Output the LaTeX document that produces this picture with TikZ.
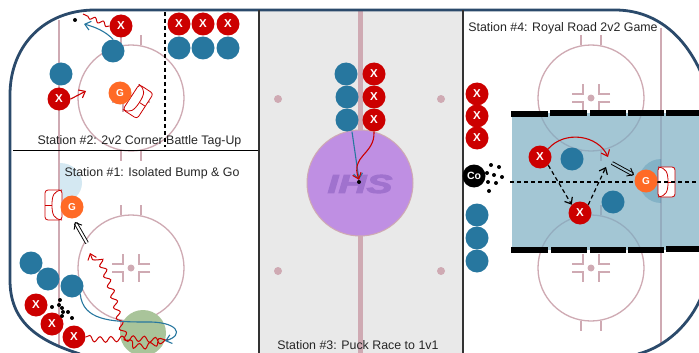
\documentclass[tikz,border=0pt]{standalone}
\usepackage{fontspec}
\setmainfont{Liberation Sans}
\newfontfamily\logofont[FakeBold=3]{Liberation Sans}
\usetikzlibrary{arrows.meta,decorations.pathmorphing}
\definecolor{rinkblue}{HTML}{2B4A6B}
\definecolor{rinkpink}{HTML}{CFAAB3}
\definecolor{teamblue}{HTML}{27779F}
\definecolor{teamred}{HTML}{CC0000}
\definecolor{goalorange}{HTML}{FF6A26}
\definecolor{stationgray}{HTML}{E9E9E9}
\definecolor{puckpurple}{HTML}{BF8FE3}
\definecolor{logopurple}{HTML}{A072CE}
\definecolor{zonegreen}{HTML}{A9C49A}
\definecolor{zoneblue}{HTML}{7CAEC3}
\definecolor{zonetint}{HTML}{A3C5D3}
\definecolor{creaseblue}{HTML}{D4E8F2}
\tikzset{
    bluedot/.style={circle, fill=teamblue, minimum size=23pt, inner sep=0},
    reddot/.style={circle, fill=teamred, text=white, minimum size=23pt, inner sep=0, font=\fontsize{11.5}{12}\selectfont\bfseries},
    goaliedot/.style={circle, fill=goalorange, text=white, minimum size=23pt, inner sep=0, font=\fontsize{10}{10}\selectfont\bfseries},
    coachdot/.style={circle, fill=black, text=white, minimum size=23pt, inner sep=0, font=\fontsize{10.5}{11}\selectfont\bfseries},
    puckdot/.style={circle, fill=black, minimum size=4pt, inner sep=0},
    rinkdot/.style={circle, fill=rinkpink, minimum size=8pt, inner sep=0},
    stationtext/.style={font=\fontsize{12.4}{13}\selectfont, text=black!85},
    barb/.style={-{Straight Barb[length=5.5pt,width=9pt]}},
    dashline/.style={dash pattern=on 4pt off 3pt, line width=1.2pt},
    wavy/.style={draw=teamred, line width=1pt, decorate, decoration={snake, amplitude=2.8pt, segment length=11pt, post length=4pt}},
    zonebar/.style={line width=5.5pt},
    goalnet/.pic={
        \draw[teamred, fill=white, line width=0.8pt, rounded corners=3pt] (0,-15) -- (-17,-15) -- (-17,15) -- (0,15) -- cycle;
        \draw[teamred, line width=0.8pt] (0,-15) .. controls (-8,-14) and (-10,-10) .. (-10,0) .. controls (-10,10) and (-8,14) .. (0,15);
        \draw[teamred, line width=0.8pt] (-17,0) -- (-10,0);
    },
    faceoff/.pic={
        \draw[rinkpink, line width=1.3pt] (0,0) circle (53pt);
        \fill[rinkpink] (0,0) circle (3.5pt);
        \draw[rinkpink, line width=1.3pt] (-10,-53) -- (-10,-63);
        \draw[rinkpink, line width=1.3pt] (10,-53) -- (10,-63);
        \draw[rinkpink, line width=1.3pt] (-10,53) -- (-10,63);
        \draw[rinkpink, line width=1.3pt] (10,53) -- (10,63);
        \draw[rinkpink, line width=1.3pt] (-19,-4) -- (-8,-4) -- (-8,-14);
        \draw[rinkpink, line width=1.3pt] (19,-4) -- (8,-4) -- (8,-14);
        \draw[rinkpink, line width=1.3pt] (-19,4) -- (-8,4) -- (-8,14);
        \draw[rinkpink, line width=1.3pt] (19,4) -- (8,4) -- (8,14);
    }
}
\begin{document}
\begin{tikzpicture}[x=1pt, y=-1pt]
    \clip (0,0) rectangle (699,353);
    \fill[white] (0,0) rectangle (699,353);

    % center panel and rink lines
    \fill[stationgray] (259,11) rectangle (463,353);
    \draw[rinkpink, line width=5pt] (360,11) -- (360,353);
    \draw[rinkpink, line width=1.3pt] (59,20) -- (59,347);
    \draw[rinkpink, line width=1.3pt] (661,28) -- (661,343);
    \pic at (131,98) {faceoff};
    \pic at (131,268) {faceoff};
    \pic at (591,98) {faceoff};
    \pic at (591,268) {faceoff};

    % station 4 zone
    \fill[zoneblue, fill opacity=0.7] (512,113) rectangle (699,250);
    \fill[teamblue, fill opacity=0.25] (661,159) arc[start angle=90, end angle=270, radius=22pt] -- cycle;
    \draw[zonebar] (511,114) -- (548,114);
    \draw[zonebar] (550,113) -- (587,113);
    \draw[zonebar] (590,113) -- (626,113);
    \draw[zonebar] (628,113) -- (664,113);
    \draw[zonebar] (666,113) -- (699,113);
    \draw[zonebar] (511,250) -- (548,250);
    \draw[zonebar] (551,250) -- (587,250);
    \draw[zonebar] (590,250) -- (626,250);
    \draw[zonebar] (628,250) -- (664,250);
    \draw[zonebar] (666,249) -- (699,249);

    % station 1 zones
    \fill[creaseblue] (60,163) arc[start angle=90, end angle=-90, x radius=22pt, y radius=20pt] -- cycle;
    \fill[zonegreen] (143,333) circle (23pt);

    % walls
    \draw[rinkblue, line width=2.8pt] (80,354) .. controls (35,340) and (10,320) .. (10,280) -- (10,95) .. controls (10,45) and (45,10) .. (95,10) -- (615,10) .. controls (655,10) and (685,35) .. (702,75);
    \draw[rinkblue, line width=2.8pt] (702,295) .. controls (690,325) and (665,347) .. (638,354);
    \draw[black!80, line width=1.2pt] (259,10) -- (259,353);
    \draw[black!80, line width=1.2pt] (463,10) -- (463,353);
    \draw[black, line width=1pt] (13,150) -- (258,150);

    % station 2
    \draw[dashline] (165,12) -- (165,147);
    \pic[rotate=147] at (131,97) {goalnet};
    \node[reddot] (xa) at (121,26) {X};
    \node[reddot] (xb) at (179,24) {X};
    \node[reddot] (xc) at (203,24) {X};
    \node[reddot] (xd) at (228,24) {X};
    \node[reddot] (xe) at (59,99) {X};
    \node[bluedot] (ba) at (113,51) {};
    \node[bluedot] (bb) at (179,48) {};
    \node[bluedot] (bc) at (203,48) {};
    \node[bluedot] (bd) at (228,48) {};
    \node[bluedot] (be) at (61,74) {};
    \node[goaliedot] (ga) at (120,93) {G};
    \node[puckdot] (pa) at (75,20) {};
    \coordinate (waveA) at (83,14);
    \coordinate (turnA) at (84,24);
    \coordinate (skateA) at (86,91);
    \draw[wavy, decoration={amplitude=2pt, segment length=9pt}] (xa.west) -- (waveA);
    \draw[barb, teamblue, line width=1.1pt] (ba.north) .. controls (105,31) and (95,27) .. (turnA);
    \draw[barb, teamred, line width=1.1pt] (xe.east) -- (skateA);

    % station 1
    \pic at (62,205) {goalnet};
    \node[goaliedot] (gb) at (72,207) {G};
    \node[bluedot] (bf) at (31,263) {};
    \node[bluedot] (bg) at (48,279) {};
    \node[bluedot] (bh) at (72,286) {};
    \node[reddot] (xf) at (36,305) {X};
    \node[reddot] (xg) at (52,324) {X};
    \node[reddot] (xh) at (74,337) {X};
    \node[puckdot] (pb) at (52,307) {};
    \node[puckdot] (pc) at (60,300) {};
    \node[puckdot] (pd) at (59,305) {};
    \node[puckdot] (pe) at (62,308) {};
    \node[puckdot] (pf) at (68,312) {};
    \node[puckdot] (pg) at (63,312) {};
    \node[puckdot] (ph) at (62,316) {};
    \node[puckdot] (pi) at (72,318) {};
    \coordinate (passA) at (87,243);
    \coordinate (passB) at (75,222);
    \coordinate (waveB) at (118,338);
    \coordinate (waveC) at (161,341);
    \coordinate (waveD) at (128,350);
    \coordinate (waveE) at (110,310);
    \coordinate (waveF) at (90,253);
    \coordinate (turnC) at (165,341);
    \draw[wavy, barb] (xh.east) .. controls (95,340) and (110,338) .. (waveB) .. controls (130,337) and (150,338) .. (waveC) .. controls (150,352) and (135,352) .. (waveD) .. controls (118,345) and (115,330) .. (waveE) .. controls (105,290) and (98,275) .. (waveF);
    \draw[barb, teamblue, line width=1.1pt] (bh.south east) .. controls (83,320) and (110,322) .. (145,322) .. controls (178,321) and (185,335) .. (turnC);
    \draw[barb, double, double distance=2pt, line width=0.9pt] (passA) -- (passB);

    % station 3
    \fill[puckpurple, draw=rinkpink, line width=1pt] (360,183) circle (53pt);
    \node[text=logopurple, font=\logofont\fontsize{26}{26}\selectfont\bfseries\itshape, xscale=1.5] (logo) at (360,184) {IHS};
    \node[rinkdot] (da) at (278,99) {};
    \node[rinkdot] (db) at (441,99) {};
    \node[rinkdot] (dc) at (278,271) {};
    \node[rinkdot] (dd) at (441,271) {};
    \node[bluedot] (bi) at (346,74) {};
    \node[bluedot] (bj) at (347,97) {};
    \node[bluedot] (bk) at (347,120) {};
    \node[reddot] (xi) at (374,74) {X};
    \node[reddot] (xj) at (374,97) {X};
    \node[reddot] (xk) at (374,120) {X};
    \node[puckdot] (pj) at (359,182) {};
    \draw[barb, teamblue, line width=1.1pt] (bk.south) ++(5,0) -- (pj.north);
    \draw[barb, teamred, line width=1.1pt] (xk.south) .. controls (375,155) and (350,155) .. (pj.north);

    % station 4
    \pic[rotate=180] at (658,182) {goalnet};
    \draw[dashline] (510,182) -- (699,182);
    \node[reddot] (xl) at (477,94) {X};
    \node[reddot] (xm) at (477,116) {X};
    \node[reddot] (xn) at (477,138) {X};
    \node[bluedot] (bl) at (477,215) {};
    \node[bluedot] (bm) at (477,238) {};
    \node[bluedot] (bn) at (477,261) {};
    \node[coachdot] (co) at (474,176) {Co};
    \node[puckdot] (pk) at (491,165) {};
    \node[puckdot] (pl) at (499,167) {};
    \node[puckdot] (pm) at (487,173) {};
    \node[puckdot] (pn) at (494,175) {};
    \node[puckdot] (po) at (502,177) {};
    \node[puckdot] (pp) at (488,182) {};
    \node[puckdot] (pq) at (496,183) {};
    \node[puckdot] (pr) at (489,191) {};
    \node[reddot] (xo) at (540,157) {X};
    \node[reddot] (xp) at (580,213) {X};
    \node[bluedot] (bo) at (572,159) {};
    \node[bluedot] (bp) at (613,202) {};
    \node[goaliedot] (gc) at (646,181) {G};
    \coordinate (skateB) at (608,157);
    \coordinate (passC) at (606,167);
    \coordinate (passD) at (612,163);
    \coordinate (passE) at (634,175);
    \draw[barb, teamred, line width=1.1pt] (xo.north east) .. controls (565,130) and (598,135) .. (skateB);
    \draw[barb, dashline] (xo.south east) -- (xp.north west);
    \draw[barb, dashline] (xp.north east) -- (passC);
    \draw[barb, double=zonetint, double distance=2pt, line width=0.9pt] (passD) -- (passE);

    % station names
    \node[stationtext] (namea) at (139.5,141) {Station \#2: 2v2 Corner Battle Tag-Up};
    \node[stationtext] (nameb) at (152,173) {Station \#1: Isolated Bump \& Go};
    \node[stationtext] (namec) at (358,345) {Station \#3: Puck Race to 1v1};
    \node[stationtext] (named) at (563,28) {Station \#4: Royal Road 2v2 Game};
\end{tikzpicture}
\end{document}
